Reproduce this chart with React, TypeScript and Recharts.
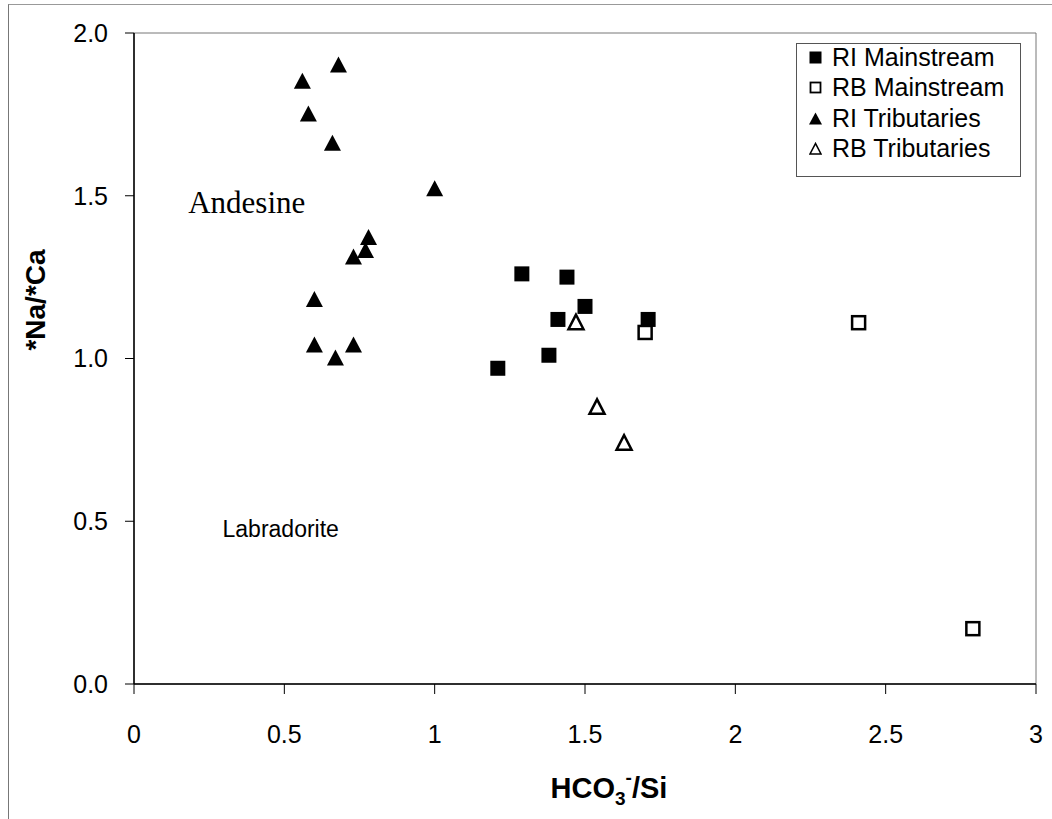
import { ScatterChart, Scatter, XAxis, YAxis, ReferenceArea, ReferenceDot } from 'recharts'

// ── data ───────────────────────────────────────────────────────
const riMainX = [1.21, 1.29, 1.38, 1.41, 1.44, 1.5, 1.71]
const riMainY = [0.97, 1.26, 1.01, 1.12, 1.25, 1.16, 1.12]

const rbMainX = [1.7, 2.41, 2.79]
const rbMainY = [1.08, 1.11, 0.17]

const riTribX = [0.56, 0.68, 0.58, 0.66, 1.0, 0.78, 0.77, 0.73, 0.6, 0.6, 0.67, 0.73]
const riTribY = [1.85, 1.9, 1.75, 1.66, 1.52, 1.37, 1.33, 1.31, 1.18, 1.04, 1.0, 1.04]

const rbTribX = [1.47, 1.54, 1.63]
const rbTribY = [1.11, 0.85, 0.74]

const xTicks = [0, 0.5, 1, 1.5, 2, 2.5, 3]
const yTicks = [0, 0.5, 1, 1.5, 2]

const SANS = 'Arial, "Liberation Sans", Helvetica, sans-serif'
const SERIF = '"Times New Roman", "Liberation Serif", serif'

const toPoints = (xs: number[], ys: number[]) => xs.map((x, i) => ({ x, y: ys[i] }))

// ── marker shapes ──────────────────────────────────────────────
function FilledSquare({ cx, cy }: { cx?: number; cy?: number }) {
  if (cx == null || cy == null) return null
  return <rect x={cx - 7.5} y={cy - 7.5} width={15} height={15} fill="#000" />
}

function OpenSquare({ cx, cy }: { cx?: number; cy?: number }) {
  if (cx == null || cy == null) return null
  return <rect x={cx - 6.5} y={cy - 6.5} width={13} height={13} fill="#fff" stroke="#000" strokeWidth={2.5} />
}

function FilledTriangle({ cx, cy }: { cx?: number; cy?: number }) {
  if (cx == null || cy == null) return null
  return <polygon points={`${cx},${cy - 9} ${cx - 8.5},${cy + 7} ${cx + 8.5},${cy + 7}`} fill="#000" />
}

function OpenTriangle({ cx, cy }: { cx?: number; cy?: number }) {
  if (cx == null || cy == null) return null
  return (
    <polygon
      points={`${cx},${cy - 8} ${cx - 7.5},${cy + 6.5} ${cx + 7.5},${cy + 6.5}`}
      fill="#fff"
      stroke="#000"
      strokeWidth={2.5}
    />
  )
}

// ── axis titles ────────────────────────────────────────────────
function XTitle({ viewBox }: { viewBox?: { x: number; y: number; width: number } }) {
  if (!viewBox) return null
  const cx = viewBox.x + viewBox.width / 2 + 24
  return (
    <text x={cx} y={viewBox.y + 114} textAnchor="middle" fontFamily={SANS} fontWeight="bold" fontSize={29} fill="#000">
      HCO
      <tspan fontSize={19} dy={7}>3</tspan>
      <tspan fontSize={19} dy={-21}>-</tspan>
      <tspan dy={14}>/Si</tspan>
    </text>
  )
}

function YTitle() {
  const x = 45
  const y = 300
  return (
    <text
      x={x}
      y={y}
      transform={`rotate(-90 ${x} ${y})`}
      textAnchor="middle"
      fontFamily={SANS}
      fontWeight="bold"
      fontSize={28}
      fill="#000"
    >
      *Na/*Ca
    </text>
  )
}

// ── legend (overlaid box) ──────────────────────────────────────
const legendItems = [
  { name: 'RI Mainstream', marker: 'fsq' },
  { name: 'RB Mainstream', marker: 'osq' },
  { name: 'RI Tributaries', marker: 'ftri' },
  { name: 'RB Tributaries', marker: 'otri' },
]

function LegendMarker({ kind }: { kind: string }) {
  return (
    <svg width={13} height={13} style={{ marginRight: 10, flex: 'none' }}>
      {kind === 'fsq' && <rect x={0.5} y={0.5} width={12} height={12} fill="#000" />}
      {kind === 'osq' && <rect x={1.5} y={1.5} width={10} height={10} fill="#fff" stroke="#000" strokeWidth={1.8} />}
      {kind === 'ftri' && <polygon points="6.5,0.5 0,12.5 13,12.5" fill="#000" />}
      {kind === 'otri' && <polygon points="6.5,1.5 1,12 12,12" fill="#fff" stroke="#000" strokeWidth={1.6} />}
    </svg>
  )
}

function ChartLegend() {
  return (
    <div
      style={{
        position: 'absolute',
        left: 796,
        top: 43,
        width: 225,
        height: 134,
        border: '1px solid #555',
        background: '#fff',
        boxSizing: 'border-box',
        fontFamily: SANS,
        fontSize: 25,
        color: '#000',
      }}
    >
      <div style={{ position: 'relative', top: -2, left: 12 }}>
        {legendItems.map((it) => (
          <div key={it.name} style={{ display: 'flex', alignItems: 'center', height: 30.5, whiteSpace: 'nowrap' }}>
            <LegendMarker kind={it.marker} />
            <span>{it.name}</span>
          </div>
        ))}
      </div>
    </div>
  )
}

export default function App() {
  const tickStyle = { fill: '#000', fontSize: 25, fontFamily: SANS }
  return (
    <div style={{ position: 'absolute', left: 0, top: 0, width: 1052, height: 819, overflow: 'hidden', background: '#fff' }}>
      {/* outer frame of the scanned figure */}
      <div style={{ position: 'absolute', left: 8, top: 4, width: 1100, height: 900, borderLeft: '1px solid #777', borderTop: '1px solid #999' }} />
      <ScatterChart width={1052} height={819} margin={{ top: 33, right: 16, left: 0, bottom: 0 }}>
        <XAxis
          type="number"
          dataKey="x"
          domain={[0, 3]}
          ticks={xTicks}
          tickFormatter={(v: number) => String(v)}
          height={135}
          tickSize={10}
          tickMargin={31}
          tick={tickStyle}
          axisLine={{ stroke: '#000', strokeWidth: 1.5 }}
          tickLine={{ stroke: '#000' }}
          allowDataOverflow
          label={<XTitle />}
        />
        <YAxis
          type="number"
          dataKey="y"
          domain={[0, 2]}
          ticks={yTicks}
          tickFormatter={(v: number) => v.toFixed(1)}
          width={134}
          tickSize={9}
          tickMargin={17}
          tick={tickStyle}
          axisLine={{ stroke: '#000', strokeWidth: 1.5 }}
          tickLine={{ stroke: '#000' }}
          allowDataOverflow
          label={<YTitle />}
        />
        <ReferenceArea x1={0} x2={3} y1={0} y2={2} fill="none" stroke="#777" strokeWidth={1} />
        <ReferenceDot
          x={0.375}
          y={1.48}
          r={0}
          fill="none"
          stroke="none"
          label={{ value: 'Andesine', position: 'center', fill: '#000', fontSize: 31, fontFamily: SERIF }}
        />
        <ReferenceDot
          x={0.488}
          y={0.476}
          r={0}
          fill="none"
          stroke="none"
          label={{ value: 'Labradorite', position: 'center', fill: '#000', fontSize: 23, fontFamily: SANS }}
        />
        <Scatter name="RI Tributaries" data={toPoints(riTribX, riTribY)} shape={FilledTriangle} isAnimationActive={false} />
        <Scatter name="RB Mainstream" data={toPoints(rbMainX, rbMainY)} shape={OpenSquare} isAnimationActive={false} />
        <Scatter name="RI Mainstream" data={toPoints(riMainX, riMainY)} shape={FilledSquare} isAnimationActive={false} />
        <Scatter name="RB Tributaries" data={toPoints(rbTribX, rbTribY)} shape={OpenTriangle} isAnimationActive={false} />
      </ScatterChart>
      <ChartLegend />
    </div>
  )
}
